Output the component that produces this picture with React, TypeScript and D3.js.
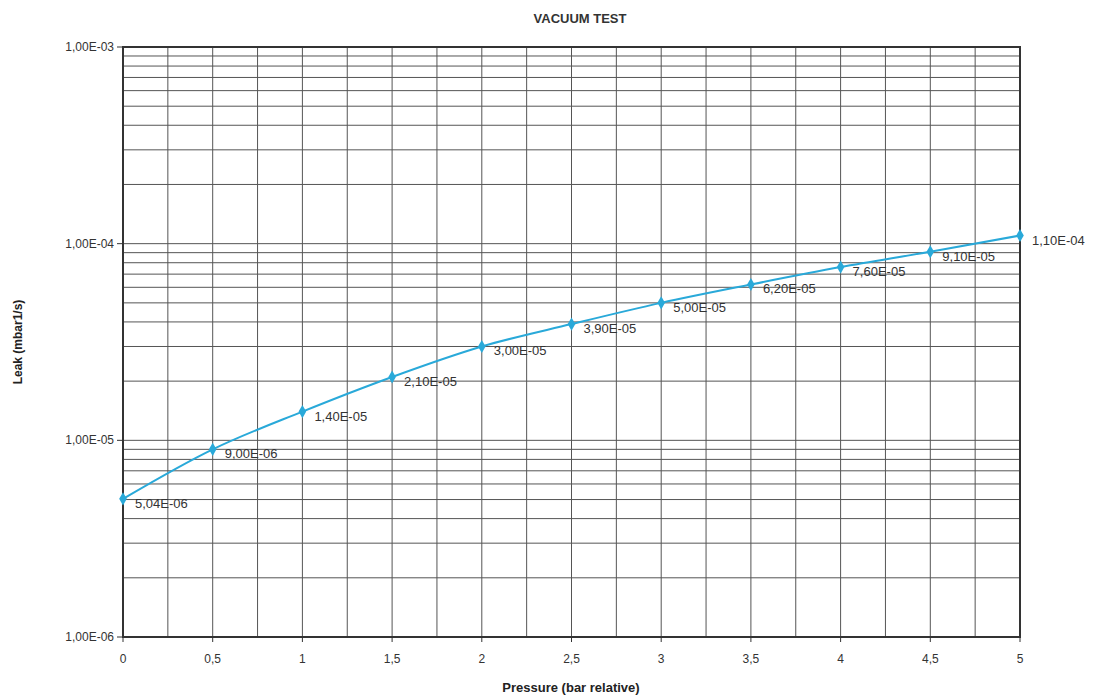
import React from "react";
import * as d3 from "d3";

const pressure = [0, 0.5, 1, 1.5, 2, 2.5, 3, 3.5, 4, 4.5, 5];
const leak = [5.04e-6, 9.0e-6, 1.4e-5, 2.1e-5, 3.0e-5, 3.9e-5, 5.0e-5, 6.2e-5, 7.6e-5, 9.1e-5, 1.1e-4];
const pointLabels = ["5,04E-06", "9,00E-06", "1,40E-05", "2,10E-05", "3,00E-05", "3,90E-05", "5,00E-05", "6,20E-05", "7,60E-05", "9,10E-05", "1,10E-04"];
const xTicks = [0, 0.5, 1, 1.5, 2, 2.5, 3, 3.5, 4, 4.5, 5];
const xTickLabels = ["0", "0,5", "1", "1,5", "2", "2,5", "3", "3,5", "4", "4,5", "5"];
const yTicks = [1e-6, 1e-5, 1e-4, 1e-3];
const yTickLabels = ["1,00E-06", "1,00E-05", "1,00E-04", "1,00E-03"];

const W = 1111, H = 697;
const M = { left: 123, right: 1020, top: 47, bottom: 637 };
const FONT = "'Liberation Sans', Arial, sans-serif";

export default function App() {
  const x = d3.scaleLinear().domain([0, 5]).range([M.left, M.right]);
  const y = d3.scaleLog().domain([1e-6, 1e-3]).range([M.bottom, M.top]);

  const vGrid = d3.range(0, 5.0001, 0.25);
  const hGrid: number[] = [];
  for (let e = -6; e < -3; e++) {
    for (let m = 1; m <= 9; m++) hGrid.push(m * Math.pow(10, e));
  }
  hGrid.push(1e-3);

  const line = d3
    .line<number>()
    .x((_, i) => x(pressure[i]))
    .y((d) => y(d))
    .curve(d3.curveMonotoneX);

  const diamond = d3.symbol().type(d3.symbolDiamond).size(50)();

  return (
    <svg width={W} height={H} style={{ position: "absolute", left: 0, top: 0 }} fontFamily={FONT}>
      <rect width={W} height={H} fill="#fff" />
      <text x={580} y={23} textAnchor="middle" fontSize={13} fontWeight="bold" fill="#333">
        VACUUM TEST
      </text>
      {hGrid.map((v, i) => (
        <line key={"h" + i} x1={M.left} x2={M.right} y1={y(v)} y2={y(v)} stroke="#555" strokeWidth={1} />
      ))}
      {vGrid.map((v, i) => (
        <line key={"v" + i} x1={x(v)} x2={x(v)} y1={M.top} y2={M.bottom} stroke="#555" strokeWidth={1} />
      ))}
      <rect x={M.left} y={M.top} width={M.right - M.left} height={M.bottom - M.top} fill="none" stroke="#333" strokeWidth={2} />
      {yTicks.map((v, i) => (
        <g key={"yt" + i}>
          <line x1={M.left - 6} x2={M.left} y1={y(v)} y2={y(v)} stroke="#333" />
          <text x={114} y={y(v) + 4} textAnchor="end" fontSize={12} fill="#333">
            {yTickLabels[i]}
          </text>
        </g>
      ))}
      {xTicks.map((v, i) => (
        <g key={"xt" + i}>
          <line x1={x(v)} x2={x(v)} y1={M.bottom} y2={M.bottom + 5} stroke="#333" />
          <text x={x(v)} y={663} textAnchor="middle" fontSize={12} fill="#333">
            {xTickLabels[i]}
          </text>
        </g>
      ))}
      <text x={571} y={692} textAnchor="middle" fontSize={13} fontWeight="bold" fill="#222">
        Pressure (bar relative)
      </text>
      <text transform={`translate(22, ${342}) rotate(-90)`} textAnchor="middle" fontSize={12} fontWeight="bold" fill="#222">
        Leak (mbar1/s)
      </text>
      <path d={line(leak) || ""} fill="none" stroke="#29a9d9" strokeWidth={2} />
      {leak.map((v, i) => (
        <path key={"m" + i} d={diamond || ""} transform={`translate(${x(pressure[i])},${y(v)})`} fill="#29a9d9" />
      ))}
      {leak.map((v, i) => (
        <text key={"l" + i} x={x(pressure[i]) + 12} y={y(v) + 9} fontSize={13} fill="#333">
          {pointLabels[i]}
        </text>
      ))}
    </svg>
  );
}
